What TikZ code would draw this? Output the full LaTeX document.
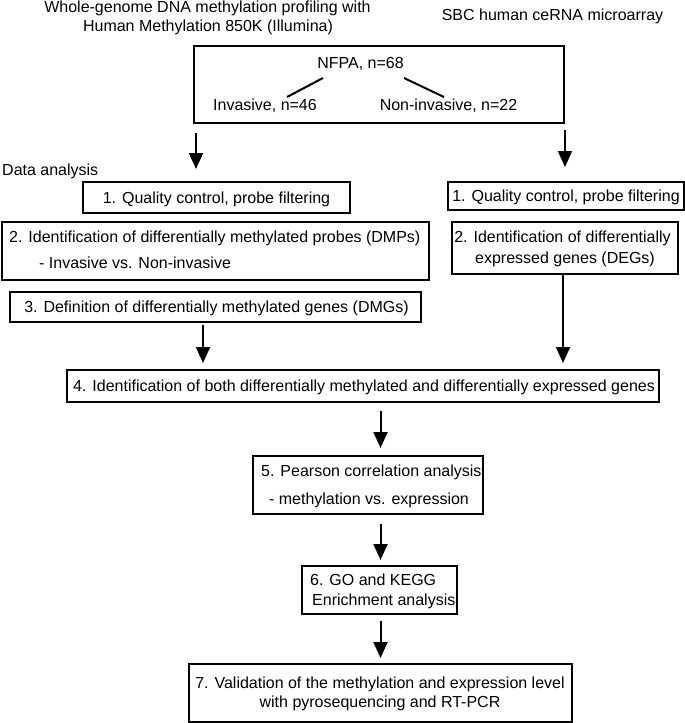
\documentclass[tikz,border=0pt]{standalone}
\usepackage{fontspec}
\setmainfont{Liberation Sans}
\usetikzlibrary{arrows.meta,calc}
\begin{document}
\begin{tikzpicture}[x=1pt,y=-1pt,
  box/.style={draw, line width=2pt, inner sep=0pt, rectangle},
  txt/.style={inner sep=0pt, font=\fontsize{16}{19}\selectfont},
  arr/.style={line width=2pt, -{Triangle[length=16pt,width=14pt]}},
  ln/.style={line width=2pt}]
\useasboundingbox (0,0) rectangle (685,723);
% titles
\node[txt, anchor=base] (t1) at (207.5,12) {Whole-genome DNA methylation profiling with};
\node[txt, anchor=base] (t2) at (208,31.5) {Human Methylation 850K (Illumina)};
\node[txt, anchor=base] (t3) at (552.5,20.5) {SBC human ceRNA microarray};
% NFPA box
\node[box, minimum width=370pt, minimum height=77pt] (nfpa) at (379,84.5) {};
\node[txt, anchor=base] (n0) at (360.5,68.5) {NFPA, n=68};
\node[txt, anchor=base] (n1) at (265,110.5) {Invasive, n=46};
\node[txt, anchor=base] (n2) at (448.5,110.5) {Non-invasive, n=22};
\coordinate (l1a) at (323,78);
\coordinate (l1b) at (287,97);
\coordinate (l2a) at (404,78);
\coordinate (l2b) at (444,97);
\draw[ln] (l1a) -- (l1b);
\draw[ln] (l2a) -- (l2b);
\node[txt, anchor=base west] (da) at (2,175.5) {Data analysis};
% left column
\node[box, minimum width=267pt, minimum height=31pt] (b1l) at (216.5,197.5) {};
\node[txt, anchor=base] (b1lt) at (216.5,203) {1. Quality control, probe filtering};
\node[box, minimum width=427pt, minimum height=58pt] (b2l) at (215.5,251) {};
\node[txt, anchor=base west] (b2lt1) at (9,242.5) {2. Identification of differentially methylated probes (DMPs)};
\node[txt, anchor=base west] (b2lt2) at (39,268.5) {- Invasive vs. Non-invasive};
\node[box, minimum width=411pt, minimum height=30pt] (b3l) at (215.5,307) {};
\node[txt, anchor=base] (b3lt) at (216.5,312.5) {3. Definition of differentially methylated genes (DMGs)};
% right column
\node[box, minimum width=236pt, minimum height=28pt] (b1r) at (566,196) {};
\node[txt, anchor=base] (b1rt) at (566,201.5) {1. Quality control, probe filtering};
\node[box, minimum width=226pt, minimum height=52pt] (b2r) at (565,248) {};
\node[txt, anchor=base] (b2rt1) at (562.5,242.5) {2. Identification of differentially};
\node[txt, anchor=base] (b2rt2) at (565,263.5) {expressed genes (DEGs)};
% lower
\node[box, minimum width=592pt, minimum height=32pt] (b4) at (363,386) {};
\node[txt, anchor=base west] (b4t) at (73,391) {4. Identification of both differentially methylated and differentially expressed genes};
\node[box, minimum width=230pt, minimum height=58pt] (b5) at (368,485) {};
\node[txt, anchor=base west] (b5t1) at (261,476.5) {5. Pearson correlation analysis};
\node[txt, anchor=base] (b5t2) at (369,504.5) {- methylation vs. expression};
\node[box, minimum width=155pt, minimum height=48pt] (b6) at (379.5,590) {};
\node[txt, anchor=base west] (b6t1) at (310,585.5) {6. GO and KEGG};
\node[txt, anchor=base west] (b6t2) at (312,605.5) {Enrichment analysis};
\node[box, minimum width=383pt, minimum height=58pt] (b7) at (380.5,693) {};
\node[txt, anchor=base] (b7t1) at (380,688.5) {7. Validation of the methylation and expression level};
\node[txt, anchor=base] (b7t2) at (380,707.5) {with pyrosequencing and RT-PCR};
% arrows
\draw[arr] ($(nfpa.south west)+(3,9)$) -- ++(0,36);
\draw[arr] ($(nfpa.south east)+(0,6)$) -- ++(0,37);
\draw[arr] ($(b3l.south)+(-12.5,2)$) -- ++(0,38);
\draw[arr] ($(b2r.south)+(-2,0)$) -- ++(0,88);
\draw[arr] ($(b4.south -| b7.north)+(0,8)$) -- ++(0,37);
\draw[arr] ($(b5.south -| b7.north)+(0,9)$) -- ++(0,36);
\draw[arr] ($(b6.south -| b7.north)+(0,6)$) -- ++(0,37);
\end{tikzpicture}
\end{document}
